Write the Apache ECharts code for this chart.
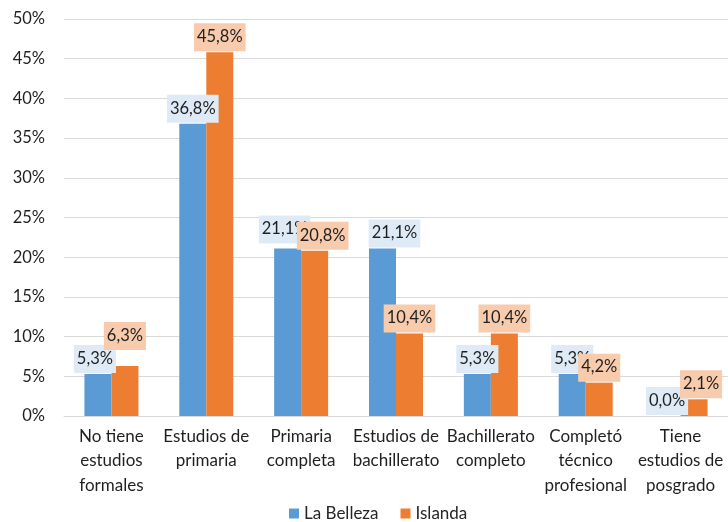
<!DOCTYPE html>
<html>
<head>
<meta charset="utf-8">
<script src="https://cdn.jsdelivr.net/npm/echarts@6/dist/echarts.min.js"></script>
<style>
  html, body { margin: 0; padding: 0; background: #fff; }
  #chart { width: 728px; height: 522px; }
</style>
</head>
<body>
<div id="chart"></div>
<script>
// Nivel educativo: porcentaje de personas por barrio
const categories = [
  'No tiene\nestudios\nformales',
  'Estudios de\nprimaria',
  'Primaria\ncompleta',
  'Estudios de\nbachillerato',
  'Bachillerato\ncompleto',
  'Completó\ntécnico\nprofesional',
  'Tiene\nestudios de\nposgrado'
];
const laBelleza = [5.3, 36.8, 21.1, 21.1, 5.3, 5.3, 0.0];
const islanda = [6.3, 45.8, 20.8, 10.4, 10.4, 4.2, 2.1];
const yTicks = [0, 5, 10, 15, 20, 25, 30, 35, 40, 45, 50];

// Small nudges so overlapping value boxes stay readable
const bellezaLabelShift = [[-3, 0], [0, 0], [-3, -4], [12, 0], [0, 0], [0, 0], [0, 0]];
const islandaLabelShift = [[0, -15], [0, 0], [8, 0], [0, 0], [0, 0], [0, 0], [7, 0]];

const FONT = 'Lato';
const fmt = v => v.toFixed(1).replace('.', ',') + '%';

function seriesData(values, shifts) {
  return values.map((v, i) => ({
    value: v,
    label: { offset: shifts[i] }
  }));
}

function labelStyle(bg) {
  return {
    show: true,
    position: 'top',
    distance: 1,
    formatter: p => fmt(p.value),
    fontFamily: FONT,
    fontSize: 16.5,
    color: '#1f1f1f',
    backgroundColor: bg,
    padding: [5, 3, 6, 3]
  };
}

const chart = echarts.init(document.getElementById('chart'));
chart.setOption({
  animation: false,
  grid: { left: 64, right: 0, top: 19, bottom: 106 },
  legend: {
    bottom: 0,
    padding: 0,
    left: 289,
    itemWidth: 10,
    itemHeight: 10,
    itemGap: 22,
    icon: 'rect',
    textStyle: { fontFamily: FONT, fontSize: 17, color: '#262626' },
    data: ['La Belleza', 'Islanda']
  },
  xAxis: {
    type: 'category',
    data: categories,
    axisLine: { lineStyle: { color: '#d9d9d9', width: 1 } },
    axisTick: { show: false },
    axisLabel: {
      interval: 0,
      margin: 8,
      fontFamily: FONT,
      fontSize: 17,
      color: '#1f1f1f',
      lineHeight: 24.5
    }
  },
  yAxis: {
    type: 'value',
    min: yTicks[0],
    max: yTicks[yTicks.length - 1],
    interval: 5,
    axisLine: { show: false },
    axisTick: { show: false },
    splitLine: { lineStyle: { color: '#d9d9d9', width: 1 } },
    axisLabel: {
      margin: 19,
      fontFamily: FONT,
      fontSize: 16.5,
      color: '#1f1f1f',
      formatter: v => v + '%'
    }
  },
  series: [
    {
      name: 'La Belleza',
      type: 'bar',
      barWidth: 27,
      barGap: '0%',
      itemStyle: { color: '#5b9bd5' },
      label: labelStyle('#deebf7'),
      data: seriesData(laBelleza, bellezaLabelShift)
    },
    {
      name: 'Islanda',
      type: 'bar',
      barWidth: 27,
      barGap: '0%',
      itemStyle: { color: '#ed7d31' },
      label: labelStyle('#f8cbad'),
      data: seriesData(islanda, islandaLabelShift)
    }
  ]
});
</script>
</body>
</html>
